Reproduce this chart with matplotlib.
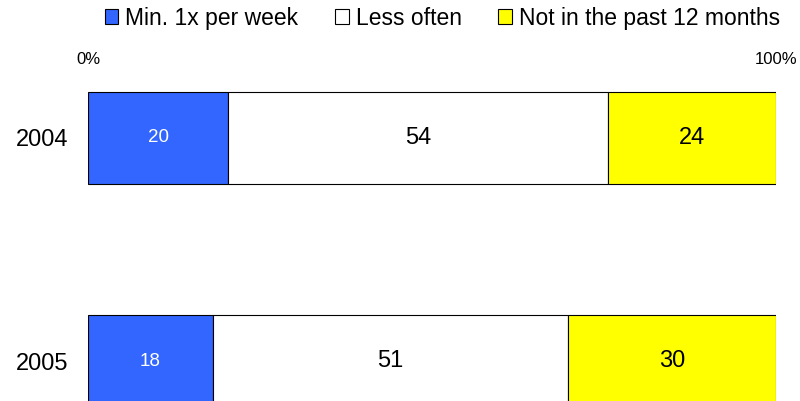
import numpy as np
import matplotlib.pyplot as plt
from matplotlib.patches import Patch

plt.rcParams['font.family'] = ['Liberation Sans', 'DejaVu Sans']

years = ["2004", "2005"]
categories = ["Min. 1x per week", "Less often", "Not in the past 12 months"]
weekly = [20, 18]
less_often = [54, 51]
not_past_year = [24, 30]

colors = ["#3366FF", "#FFFFFF", "#FFFF00"]
text_colors = ["white", "black", "black"]
text_sizes = [13.5, 17, 17]

series = np.array([weekly, less_often, not_past_year], dtype=float)
# each row is scaled to 100%
shares = series / series.sum(axis=0) * 100

fig = plt.figure(figsize=(8, 4.01), dpi=100)
ax = fig.add_axes([0.11, 0.0, 0.86, 331 / 401])

ypos = np.arange(len(years))
left = np.zeros(len(years))
for i, cat in enumerate(categories):
    ax.barh(ypos, shares[i], left=left, height=0.4126, color=colors[i],
            edgecolor="black", linewidth=0.8, label=cat)
    for j in range(len(years)):
        ax.text(left[j] + shares[i][j] / 2, ypos[j], f"{series[i][j]:.0f}",
                ha="center", va="center", color=text_colors[i],
                fontsize=text_sizes[i])
    left += shares[i]

ax.set_xlim(0, 100)
ax.set_ylim(1 + 40 / 223, -68 / 223)
ax.set_yticks(ypos)
ax.set_yticklabels(years, fontsize=17)
ax.xaxis.tick_top()
ax.set_xticks([0, 100])
ax.set_xticklabels(["0%", "100%"], fontsize=12)
ax.tick_params(axis="both", length=0)
ax.tick_params(axis="x", pad=2)
ax.tick_params(axis="y", pad=14)
for s in ax.spines.values():
    s.set_visible(False)

handles = [Patch(facecolor=c, edgecolor="black", linewidth=0.8) for c in colors]
fig.legend(handles, categories, loc="center", bbox_to_anchor=(0.553, 0.955),
           ncol=3, frameon=False, fontsize=16.5, handlelength=0.6,
           handleheight=0.6, handletextpad=0.3, columnspacing=1.6)

fig.savefig("out.png", dpi=100)
